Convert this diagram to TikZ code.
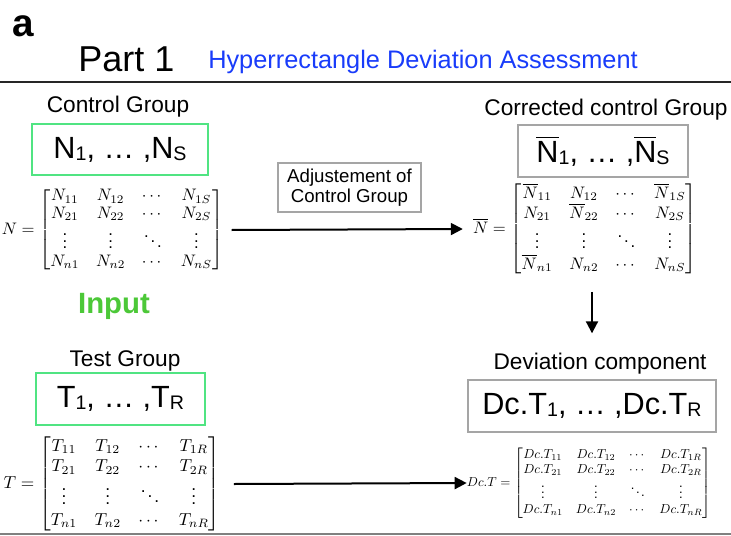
\documentclass[tikz,border=0pt]{standalone}
\usepackage{amsmath}
\usepackage[no-math]{fontspec}
\setmainfont{Liberation Sans}
\usetikzlibrary{arrows.meta}
\definecolor{boxgreen}{RGB}{80,228,130}
\definecolor{inputgreen}{RGB}{76,200,56}
\definecolor{titleblue}{RGB}{25,60,250}
\definecolor{boxgray}{RGB}{165,165,165}
\newcommand\sbs[1]{\raisebox{-0.12ex}{\scalebox{0.64}{#1}}}
\begin{document}
\begin{tikzpicture}[x=0.75pt,y=-0.75pt,
  lbl/.style={font=\fontsize{17}{20}\selectfont, anchor=base, inner sep=0pt},
  grpbox/.style={draw, line width=1.5pt, font=\fontsize{23}{26}\selectfont, inner sep=0pt},
  greenbox/.style={grpbox, draw=boxgreen},
  graybox/.style={grpbox, draw=boxgray},
  mat/.style={inner sep=0pt, scale=1.3},
  arr/.style={line width=1.5pt, -{Triangle[length=9pt,width=9pt]}}]
\useasboundingbox (0,0) rectangle (731,535);
% header
\node[font=\fontsize{29}{30}\selectfont\bfseries, anchor=base west, inner sep=0pt] (lettera) at (12,37) {a};
\node[font=\fontsize{27}{30}\selectfont, anchor=base west, inner sep=0pt] (part) at (78,72) {Part 1};
\node[font=\fontsize{19}{22}\selectfont, text=titleblue, anchor=base west, inner sep=0pt] (title) at (208,69) {Hyperrectangle Deviation Assessment};
\coordinate (hlL) at (0,82);
\coordinate (hlR) at (731,82);
\draw[line width=1.8pt, black!85] (hlL) -- (hlR);
\coordinate (blL) at (0,533.5);
\coordinate (blR) at (731,533.5);
\draw[line width=1.5pt, black!50] (blL) -- (blR);

% control group
\node[lbl] (cglbl) at (118,113) {Control Group};
\node[greenbox, minimum width=132pt, minimum height=38.25pt] (nbox) at (120,149.5) {N\sbs{1}, … ,N\sbs{S}};
\node[mat, scale=0.962] (nmat) at (112.5,230) {\renewcommand\arraystretch{0.88}$N=\begin{bmatrix} N_{11} & N_{12} & \cdots & N_{1S}\\ N_{21} & N_{22} & \cdots & N_{2S}\\ \vdots & \vdots & \ddots & \vdots\\ N_{n1} & N_{n2} & \cdots & N_{nS}\end{bmatrix}$};
\node[font=\fontsize{22}{24}\selectfont\bfseries, text=inputgreen, anchor=base, inner sep=0pt] (input) at (114,313) {Input};

% test group
\node[lbl] (tglbl) at (125,366) {Test Group};
\node[greenbox, minimum width=126.75pt, minimum height=39pt] (tbox) at (120.5,399) {T\sbs{1}, … ,T\sbs{R}};
\node[mat] (tmat) at (112,484) {$T=\begin{bmatrix} T_{11} & T_{12} & \cdots & T_{1R}\\ T_{21} & T_{22} & \cdots & T_{2R}\\ \vdots & \vdots & \ddots & \vdots\\ T_{n1} & T_{n2} & \cdots & T_{nR}\end{bmatrix}$};

% adjustment
\node[draw=boxgray, line width=1.5pt, font=\fontsize{14}{15}\selectfont, align=center, minimum width=107.25pt, minimum height=36.75pt, inner sep=0pt] (adj) at (349.5,187.5) {Adjustement of\\Control Group};

% corrected control group
\node[lbl] (cclbl) at (606,115) {Corrected control Group};
\node[graybox, minimum width=127.5pt, minimum height=39pt] (nbarbox) at (603,151) {$\overline{\text{N}}$\sbs{1}, … ,$\overline{\text{N}}$\sbs{S}};
\node[mat, scale=0.962] (nbarmat) at (585,229) {\renewcommand\arraystretch{0.9}$\overline{N}=\begin{bmatrix} \overline{N}_{11} & N_{12} & \cdots & \overline{N}_{1S}\\ N_{21} & \overline{N}_{22} & \cdots & N_{2S}\\ \vdots & \vdots & \ddots & \vdots\\ \overline{N}_{n1} & N_{n2} & \cdots & N_{nS}\end{bmatrix}$};

% deviation component
\node[lbl] (dclbl) at (600,369) {Deviation component};
\node[graybox, minimum width=186pt, minimum height=39pt] (dcbox) at (592,406) {Dc.T\sbs{1}, … ,Dc.T\sbs{R}};
\node[mat, scale=0.75] (dcmat) at (589,483) {$Dc.T=\begin{bmatrix} Dc.T_{11} & Dc.T_{12} & \cdots & Dc.T_{1R}\\ Dc.T_{21} & Dc.T_{22} & \cdots & Dc.T_{2R}\\ \vdots & \vdots & \ddots & \vdots\\ Dc.T_{n1} & Dc.T_{n2} & \cdots & Dc.T_{nR}\end{bmatrix}$};

% arrows
\draw[arr] ([xshift=6pt]nmat.east) -- ([xshift=-7.5pt]nbarmat.west);
\draw[arr] ([xshift=5.25pt,yshift=-12.75pt]nbarmat.south) -- ([xshift=5.25pt,yshift=14.25pt]nbarmat.south |- dclbl.north);
\draw[arr] ([xshift=9.75pt]tmat.east) -- (dcmat.west);
\end{tikzpicture}
\end{document}
